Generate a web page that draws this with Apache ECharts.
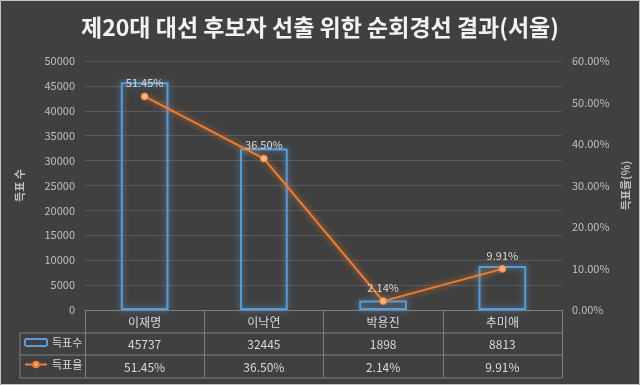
<!DOCTYPE html>
<html>
<head>
<meta charset="utf-8">
<script src="https://cdn.jsdelivr.net/npm/echarts@6/dist/echarts.min.js"></script>
<style>
html,body{margin:0;padding:0;background:#404040;}
#main{width:640px;height:385px;}
</style>
</head>
<body>
<div id="main"></div>
<script>
var categories = ['이재명', '이낙연', '박용진', '추미애'];
var votes = [45737, 32445, 1898, 8813];
var rates = [0.5145, 0.3650, 0.0214, 0.0991];
var seriesNames = ['득표수', '득표율'];
var titleText = '제20대 대선 후보자 선출 위한 순회경선 결과(서울)';

var FONT = '"Noto Sans CJK KR", "Noto Sans", sans-serif';
var GL = 85, GR = 78, GT = 61, GB = 75;
var W = 640, H = 385;
var gridBottomY = H - GB;
var gridRightX = W - GR;
var rowH = [23, 22, 23];
var tableLeft = 20;
var lineColor = '#7f7f7f';
var pct = function (v) { return (v * 100).toFixed(2) + '%'; };

var y1 = gridBottomY + rowH[0], y2 = y1 + rowH[1], y3 = y2 + rowH[2];
var graphics = [
  {type:'line', shape:{x1:tableLeft, y1:y1, x2:gridRightX, y2:y1}, style:{stroke:lineColor, lineWidth:1}},
  {type:'line', shape:{x1:tableLeft, y1:y2, x2:gridRightX, y2:y2}, style:{stroke:lineColor, lineWidth:1}},
  {type:'line', shape:{x1:tableLeft, y1:y3, x2:gridRightX, y2:y3}, style:{stroke:lineColor, lineWidth:1}},
  {type:'line', shape:{x1:tableLeft, y1:y1, x2:tableLeft, y2:y3}, style:{stroke:lineColor, lineWidth:1}},
  {type:'rect', shape:{x:0.5, y:0.5, width:W-1, height:H-1}, style:{fill:'none', stroke:'#c4c4c4', lineWidth:1}, z:100}
];

var chart = echarts.init(document.getElementById('main'));
chart.setOption({
  backgroundColor: '#404040',
  animation: false,
  textStyle: {fontFamily: FONT},
  title: {
    text: titleText, left: 'center', top: 11,
    textStyle: {color: '#f2f2f2', fontSize: 23, fontWeight: 'bold', fontFamily: FONT}
  },
  grid: {left: GL, right: GR, top: GT, bottom: GB, containLabel: false},
  legend: [
    {data: [seriesNames[0]], left: 24, top: y1 + 4, padding: 0, itemWidth: 22, itemHeight: 7, itemGap: 2,
     textStyle: {color: '#d9d9d9', fontSize: 11, fontFamily: FONT}},
    {data: [seriesNames[1]], left: 24, top: y2 + 4, padding: 0, itemWidth: 22, itemHeight: 7, itemGap: 2,
     textStyle: {color: '#d9d9d9', fontSize: 11, fontFamily: FONT}}
  ],
  xAxis: [
    {type: 'category', data: categories, position: 'bottom',
     axisLine: {show: true, lineStyle: {color: lineColor}},
     axisTick: {show: true, length: rowH[0] + rowH[1] + rowH[2], lineStyle: {color: lineColor}},
     axisLabel: {color: '#d9d9d9', fontSize: 12, margin: 6, fontFamily: FONT},
     splitLine: {show: false}},
    {type: 'category', data: categories, position: 'bottom', offset: rowH[0],
     axisLine: {show: false}, axisTick: {show: false},
     axisLabel: {color: '#d9d9d9', fontSize: 12, margin: 5, fontFamily: FONT,
       formatter: function (v, i) { return String(votes[i]); }}},
    {type: 'category', data: categories, position: 'bottom', offset: rowH[0] + rowH[1],
     axisLine: {show: false}, axisTick: {show: false},
     axisLabel: {color: '#d9d9d9', fontSize: 12, margin: 6, fontFamily: FONT,
       formatter: function (v, i) { return pct(rates[i]); }}}
  ],
  yAxis: [
    {type: 'value', min: 0, max: 50000, interval: 5000,
     name: '득표 수', nameLocation: 'middle', nameGap: 60, nameRotate: 90,
     nameTextStyle: {color: '#bfbfbf', fontSize: 11, fontWeight: 'bold', fontFamily: FONT},
     axisLine: {show: false}, axisTick: {show: false},
     axisLabel: {color: '#bfbfbf', fontSize: 11, margin: 10, fontFamily: FONT,
       formatter: function (v) { return String(v); }},
     splitLine: {show: true, lineStyle: {color: '#595959', width: 1}}},
    {type: 'value', min: 0, max: 0.6, interval: 0.1, position: 'right',
     name: '득표율(%)', nameLocation: 'middle', nameGap: 55, nameRotate: 90,
     nameTextStyle: {color: '#bfbfbf', fontSize: 11, fontWeight: 'bold', fontFamily: FONT},
     axisLine: {show: false}, axisTick: {show: false},
     axisLabel: {color: '#bfbfbf', fontSize: 11, margin: 10, align: 'left', fontFamily: FONT, formatter: pct},
     splitLine: {show: false}}
  ],
  series: [
    {name: seriesNames[0], type: 'bar', data: votes, xAxisIndex: 0, yAxisIndex: 0, barWidth: '40%',
     itemStyle: {color: 'rgba(64,64,64,0)', borderColor: '#5b9bd5', borderWidth: 2,
       shadowBlur: 6, shadowColor: 'rgba(91,155,213,0.9)'}},
    {name: seriesNames[1], type: 'line', data: rates, xAxisIndex: 0, yAxisIndex: 1,
     symbol: 'circle', symbolSize: 7, z: 5,
     lineStyle: {color: '#ed7d31', width: 2, shadowBlur: 6, shadowColor: 'rgba(237,125,49,0.9)'},
     itemStyle: {color: '#f4b183', borderColor: '#ed7d31', borderWidth: 1},
     label: {show: true, position: 'top', distance: 4, color: '#d9d9d9', fontSize: 11, fontFamily: FONT,
       formatter: function (p) { return pct(p.value); }}}
  ],
  graphic: graphics
});
</script>
</body>
</html>
